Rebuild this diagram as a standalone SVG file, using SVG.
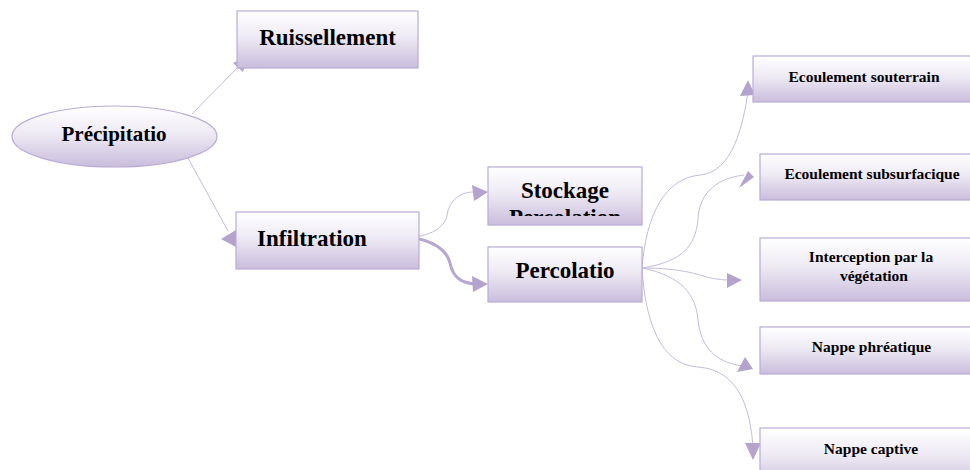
<svg xmlns="http://www.w3.org/2000/svg" width="970" height="470" viewBox="0 0 970 470">
<defs>
<linearGradient id="g" x1="0" y1="0" x2="0" y2="1">
<stop offset="0" stop-color="#ffffff"/>
<stop offset="0.45" stop-color="#eeeaf4"/>
<stop offset="1" stop-color="#c9bddc"/>
</linearGradient>
<clipPath id="clipStock"><rect x="488" y="167" width="154" height="49"/></clipPath>
<style>
.box{fill:url(#g);stroke:#baacd5;stroke-width:1.2}
.t{font-family:"Liberation Serif","Times New Roman",serif;font-weight:bold;fill:#000}
.big{font-size:23px}
.mid{font-size:21px}
.sm{font-size:15.5px}
.ln{fill:none;stroke:#c6bbdd;stroke-width:1}
.thick{fill:none;stroke:#b7a7d0;stroke-width:3}
.ah{fill:#b3a3cd}
</style>
</defs>
<rect width="970" height="470" fill="#ffffff"/>
<g id="connectors">
<path class="ln" d="M192,114 L240,65"/>
<polygon class="ah" points="248,56 233,63 243,72"/>
<path class="ln" d="M188,158 L228,231"/>
<polygon class="ah" points="221,239 236,230 236,247"/>
<path class="ln" d="M408,238 C430,236 445,228 447,215 C450,198 462,192 474,192"/>
<polygon class="ah" points="488,192 472,185 474,201"/>
<path class="thick" d="M408,237 C433,240 447,250 450,263 C453,278 462,283 475,284"/>
<polygon class="ah" points="488,284 472,276 473,292"/>
<path class="ln" d="M642,268 C646,215 665,178 700,175 C733,172 743,125 748,92"/>
<polygon class="ah" points="748,80 740,96 755,95"/>
<path class="ln" d="M642,268 C680,262 696,248 698,218 C700,190 720,178 744,175"/>
<polygon class="ah" points="754,177 748,171 739,188"/>
<path class="ln" d="M642,268 C672,268 690,272 700,275 C712,279 722,280 730,280"/>
<polygon class="ah" points="742,280 727,273 727,288"/>
<path class="ln" d="M642,268 C682,276 696,295 698,320 C701,348 716,362 742,366"/>
<polygon class="ah" points="753,369 745,357 737,372"/>
<path class="ln" d="M642,268 C645,320 660,365 698,367 C740,370 750,410 753,446"/>
<polygon class="ah" points="745,443 761,443 753,460"/>
</g>
<g id="precipitation">
<ellipse class="box" cx="114.5" cy="136.5" rx="102.5" ry="30.5"/>
<text class="t mid" x="114" y="141" text-anchor="middle">Précipitatio</text>
</g>
<g id="ruissellement">
<rect class="box" x="237" y="11" width="181" height="57"/>
<text class="t big" x="327.5" y="45" text-anchor="middle">Ruissellement</text>
</g>
<g id="infiltration">
<rect class="box" x="236" y="212" width="183" height="57"/>
<text class="t big" x="257" y="246">Infiltration</text>
</g>
<g id="stockage">
<rect class="box" x="488" y="167" width="154" height="58"/>
<g clip-path="url(#clipStock)">
<text class="t big" x="565" y="198" text-anchor="middle">Stockage</text>
<text class="t big" x="565" y="225" text-anchor="middle">Percolation</text>
</g>
</g>
<g id="percolatio">
<rect class="box" x="488" y="247" width="154" height="55"/>
<text class="t big" x="565" y="278" text-anchor="middle">Percolatio</text>
</g>
<g id="ecoulement-souterrain">
<rect class="box" x="753" y="56" width="222" height="46"/>
<text class="t sm" x="864" y="82" text-anchor="middle">Ecoulement souterrain</text>
</g>
<g id="ecoulement-subsurfacique">
<rect class="box" x="760" y="154" width="224" height="46"/>
<text class="t sm" x="872" y="179" text-anchor="middle">Ecoulement subsurfacique</text>
</g>
<g id="interception">
<rect class="box" x="760" y="238" width="224" height="63"/>
<text class="t sm" x="871" y="262" text-anchor="middle">Interception par la</text>
<text class="t sm" x="874" y="281" text-anchor="middle">végétation</text>
</g>
<g id="nappe-phreatique">
<rect class="box" x="760" y="327" width="224" height="47"/>
<text class="t sm" x="871.5" y="352" text-anchor="middle">Nappe phréatique</text>
</g>
<g id="nappe-captive">
<rect class="box" x="760" y="428" width="224" height="60"/>
<text class="t sm" x="871" y="454" text-anchor="middle">Nappe captive</text>
</g>
</svg>
